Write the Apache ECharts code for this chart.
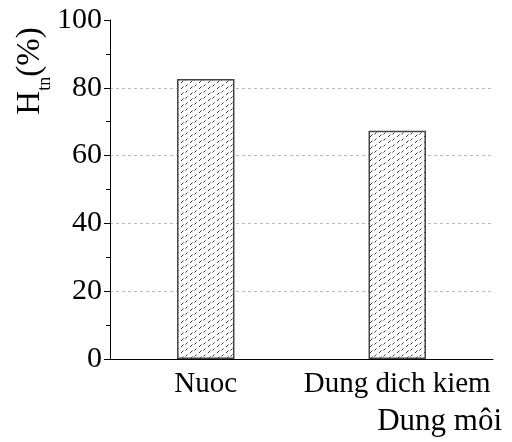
<!DOCTYPE html>
<html><head><meta charset="utf-8">
<script src="https://cdn.jsdelivr.net/npm/echarts@6/dist/echarts.min.js"></script>
<style>html,body{margin:0;padding:0;background:#fff}#c{width:512px;height:442px}</style>
</head><body><div id="c"></div>
<script>
const categories = ['Nuoc', 'Dung dich kiem'];
const values = [82.6, 67.3];
const yTicks = [0, 20, 40, 60, 80, 100];
const xTitle = 'Dung môi';

function makePattern() {
  const c = document.createElement('canvas');
  c.width = 9; c.height = 6;
  const g = c.getContext('2d');
  g.fillStyle = '#fff'; g.fillRect(0, 0, 9, 6);
  g.strokeStyle = '#222'; g.lineWidth = 0.9;
  g.beginPath(); g.moveTo(1, 5); g.lineTo(3.5, 2.5); g.stroke();
  g.beginPath(); g.moveTo(5.5, 2.5); g.lineTo(7.5, 0.5); g.stroke();
  return c;
}
const font = 'Liberation Serif';
const chart = echarts.init(document.getElementById('c'));
chart.setOption({
  animation: false,
  grid: { left: 110, right: 19, top: 20, bottom: 83 },
  xAxis: [{
    type: 'category', data: categories,
    axisLine: { lineStyle: { color: '#000', width: 1 } },
    axisTick: { alignWithLabel: true, length: 5, lineStyle: { color: '#000' } },
    axisLabel: { color: '#000', fontFamily: font, fontSize: 29, margin: 11, interval: 0, hideOverlap: false },
    name: xTitle, nameLocation: 'end', nameGap: 9,
    nameTextStyle: { color: '#000', fontFamily: font, fontSize: 31, align: 'right', verticalAlign: 'top', padding: [47, 0, 0, 0] }
  }, {
    type: 'category', data: categories, position: 'bottom',
    axisLine: { show: false },
    axisTick: { inside: true, length: 4, lineStyle: { color: '#000' } },
    axisLabel: { show: false }
  }],
  yAxis: {
    type: 'value', min: yTicks[0], max: yTicks[yTicks.length - 1], interval: 20,
    axisLine: { show: true, lineStyle: { color: '#000' } },
    axisTick: { show: true, length: 6, lineStyle: { color: '#000' } },
    minorTick: { show: true, splitNumber: 2, length: 4, lineStyle: { color: '#000' } },
    axisLabel: { color: '#000', fontFamily: font, fontSize: 30, margin: 8 },
    splitLine: { show: true, lineStyle: { type: [3, 3], color: ['transparent', '#bbb', '#bbb', '#bbb', '#bbb', 'transparent'] } }
  },
  graphic: [{
    type: 'text', x: 46, y: 71, rotation: Math.PI / 2,
    style: {
      text: '{b|H}{s|tn}{b|(%)}',
      align: 'center', verticalAlign: 'bottom',
      rich: {
        b: { fontFamily: font, fontSize: 33, fill: '#000', lineHeight: 32 },
        s: { fontFamily: font, fontSize: 18, fill: '#000', lineHeight: 32, verticalAlign: 'bottom', padding: [0, 0, -8, 0] }
      }
    }
  }],
  series: [{
    type: 'bar', data: values, barWidth: '30%',
    itemStyle: { color: { image: makePattern(), repeat: 'repeat' }, borderColor: '#444', borderWidth: 1.5 }
  }]
});
</script></body></html>
